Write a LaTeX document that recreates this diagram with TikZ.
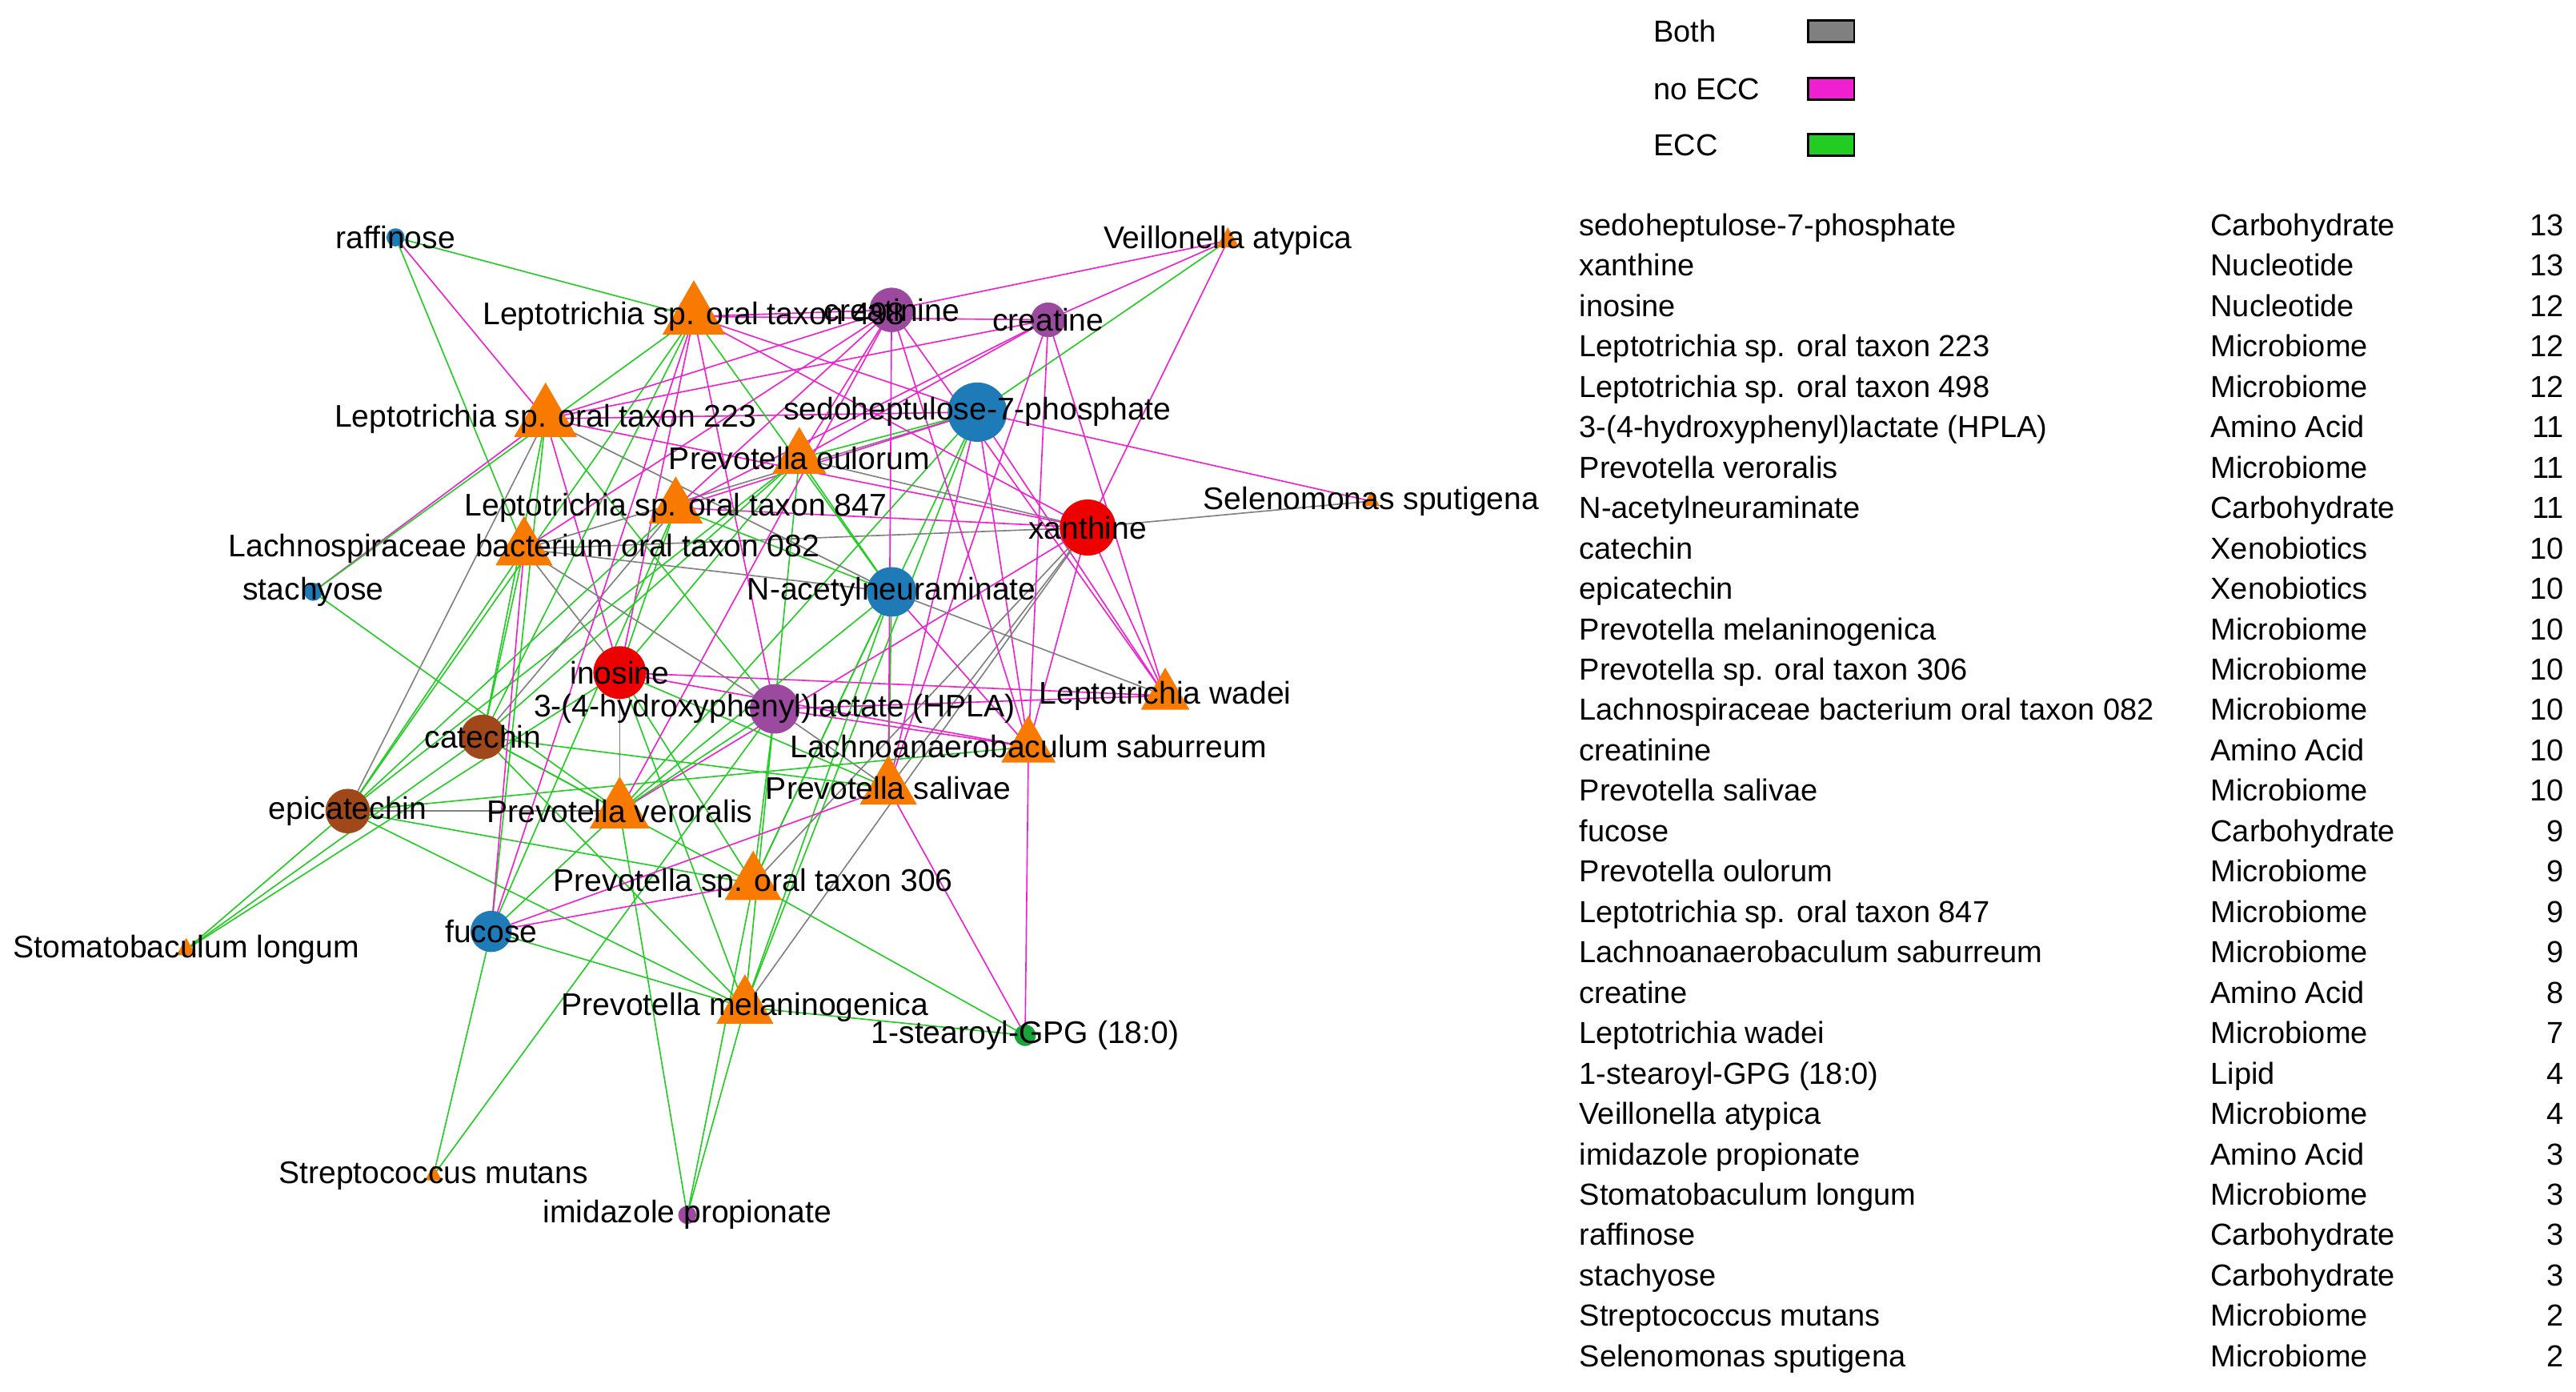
\documentclass[tikz,border=0pt]{standalone}
\usepackage{fontspec}
\setmainfont{Liberation Sans}
\usetikzlibrary{shapes.geometric}
\definecolor{eg}{HTML}{22CC22}
\definecolor{em}{HTML}{F020D0}
\definecolor{ey}{HTML}{808080}
\definecolor{cor}{HTML}{F97A00}
\definecolor{cbl}{HTML}{1F7AB8}
\definecolor{cre}{HTML}{EE0000}
\definecolor{cpu}{HTML}{9B4AA0}
\definecolor{cbr}{HTML}{A0481A}
\definecolor{cgr}{HTML}{1AA33A}
\tikzset{
 met/.style={circle,inner sep=0pt,draw=none},
 mic/.style={regular polygon,regular polygon sides=3,inner sep=0pt,fill=cor,draw=none},
 lab/.style={font=\fontsize{10.8}{12}\selectfont,inner sep=0pt},
 tab/.style={font=\fontsize{10.5}{12}\selectfont,inner sep=0pt},
 ed/.style={line width=0.45pt},
}
\begin{document}
\begin{tikzpicture}[x=0.02cm,y=-0.02cm]
\useasboundingbox (0,0) rectangle (1563,844);
% coordinates
\foreach \n/\x/\y in {raf/240/144,vei/745/146,la/421/192,crn/541/188,cre/636/194,lb/331/254,sed/593/250,pou/485/278,lc/410/308,sel/832/304,xan/660/320,lac/318/333,sta/190/359,nac/541/359,ino/376/408,hpl/470/430,lwa/707/422,cat/293/447,lan/624/453,psa/539/478,epi/211/492,pve/376/492,p36/457/536,fuc/298/565,sto/113/576,pme/452/611,ste/622/628,str/263/713,imi/417/737}
 \coordinate (\n) at (\x,\y);
% edges
\foreach \a/\b/\c in {raf/la/eg,raf/lb/em,raf/lac/eg,sta/lb/em,sta/la/eg,sta/pve/eg,
 vei/crn/em,vei/cre/em,vei/sed/eg,vei/xan/em,sto/epi/eg,sto/cat/eg,sto/ino/eg,str/fuc/eg,str/hpl/eg,sel/sed/em,sel/xan/ey,
 imi/pme/eg,imi/p36/eg,imi/pve/eg,ste/pme/eg,ste/lan/em,ste/psa/em,ste/p36/eg}
 \draw[ed,\c] (\a) -- (\b);
\foreach \b/\c in {lb/em,la/em,lac/ey,pve/eg,pme/eg,p36/eg,lan/em,psa/em,pou/eg,lc/em,lwa/em}
 \draw[ed,\c] (sed) -- (\b);
\foreach \b/\c in {lb/em,la/em,lac/ey,pve/em,pme/ey,p36/ey,lan/em,psa/ey,pou/ey,lc/em,lwa/em}
 \draw[ed,\c] (xan) -- (\b);
\foreach \b/\c in {lb/em,la/em,lac/ey,pve/ey,pme/eg,p36/eg,lan/em,psa/eg,pou/eg,lc/eg,lwa/em}
 \draw[ed,\c] (ino) -- (\b);
\foreach \b/\c in {lb/eg,la/em,lac/ey,pve/eg,pme/eg,p36/eg,lan/em,psa/ey,pou/eg,lwa/em}
 \draw[ed,\c] (hpl) -- (\b);
\foreach \b/\c in {lb/ey,la/eg,lac/ey,pve/eg,pme/eg,p36/eg,lan/em,psa/eg,pou/eg,lc/eg,lwa/ey}
 \draw[ed,\c] (nac) -- (\b);
\foreach \b/\c in {lb/eg,la/eg,lac/eg,pve/eg,pme/eg,p36/eg,psa/eg,pou/eg,lc/ey}
 \draw[ed,\c] (cat) -- (\b);
\foreach \b/\c in {lb/ey,la/eg,lac/eg,pve/ey,pme/eg,p36/eg,lan/eg,pou/eg,lc/eg}
 \draw[ed,\c] (epi) -- (\b);
\foreach \b/\c in {lb/em,la/em,lac/em,pve/em,lan/em,psa/em,pou/em,lc/em,lwa/em}
 \draw[ed,\c] (crn) -- (\b);
\foreach \b/\c in {lb/eg,la/em,pve/eg,pme/eg,p36/em,psa/em,lc/eg,lac/em}
 \draw[ed,\c] (fuc) -- (\b);
\foreach \b/\c in {lb/em,la/em,lan/em,psa/em,pou/em,lc/em,lwa/em}
 \draw[ed,\c] (cre) -- (\b);
% metabolite shapes
\foreach \n/\col/\s in {raf/cbl/11,sta/cbl/11,imi/cpu/11,ste/cgr/13,sed/cbl/36,xan/cre/34,ino/cre/32,nac/cbl/30,hpl/cpu/30,cat/cbr/27,epi/cbr/27,fuc/cbl/25,crn/cpu/27,cre/cpu/21}
 \node[met,fill=\col,minimum size=\s*0.02cm] (s\n) at (\n) {};
\foreach \n/\s in {la/44,lb/44,pve/42,pme/40,p36/40,lac/40,psa/40,pou/38,lc/38,lan/38,lwa/34,vei/16,sto/14,str/12,sel/12}
 \node[mic,minimum size=\s*0.02cm] (s\n) at (\n) {};
% labels
\foreach \n/\t in {raf/raffinose,vei/Veillonella atypica,la/Leptotrichia sp. oral taxon 498,crn/creatinine,cre/creatine,lb/Leptotrichia sp. oral taxon 223,sed/sedoheptulose-7-phosphate,pou/Prevotella oulorum,lc/Leptotrichia sp. oral taxon 847,sel/Selenomonas sputigena,xan/xanthine,lac/Lachnospiraceae bacterium oral taxon 082,sta/stachyose,nac/N-acetylneuraminate,ino/inosine,lwa/Leptotrichia wadei,cat/catechin,lan/Lachnoanaerobaculum saburreum,psa/Prevotella salivae,epi/epicatechin,pve/Prevotella veroralis,p36/Prevotella sp. oral taxon 306,fuc/fucose,sto/Stomatobaculum longum,pme/Prevotella melaninogenica,ste/1-stearoyl-GPG (18:0),str/Streptococcus mutans,imi/imidazole propionate}
 \node[lab] (l\n) at (\n) {\t};
\node[lab] (lhpl) at (470,430) {3-(4-hydroxyphenyl)lactate (HPLA)};
% legend
\foreach \t/\y/\col in {Both/19/ey,no ECC/54/em,ECC/88/eg}{
 \node[tab,anchor=west] (lg\y) at (1003,\y) {\t};
 \node[draw=black,line width=0.8pt,fill=\col,minimum width=28*0.02cm,minimum height=13*0.02cm,inner sep=0pt] (bx\y) at (1111,\y) {};
}
% table
\foreach \i/\a/\b/\c in {0/sedoheptulose-7-phosphate/Carbohydrate/13,1/xanthine/Nucleotide/13,2/inosine/Nucleotide/12,3/Leptotrichia sp. oral taxon 223/Microbiome/12,4/Leptotrichia sp. oral taxon 498/Microbiome/12,5/3-(4-hydroxyphenyl)lactate (HPLA)/Amino Acid/11,6/Prevotella veroralis/Microbiome/11,7/N-acetylneuraminate/Carbohydrate/11,8/catechin/Xenobiotics/10,9/epicatechin/Xenobiotics/10,10/Prevotella melaninogenica/Microbiome/10,11/Prevotella sp. oral taxon 306/Microbiome/10,12/Lachnospiraceae bacterium oral taxon 082/Microbiome/10,13/creatinine/Amino Acid/10,14/Prevotella salivae/Microbiome/10,15/fucose/Carbohydrate/9,16/Prevotella oulorum/Microbiome/9,17/Leptotrichia sp. oral taxon 847/Microbiome/9,18/Lachnoanaerobaculum saburreum/Microbiome/9,19/creatine/Amino Acid/8,20/Leptotrichia wadei/Microbiome/7,21/1-stearoyl-GPG (18:0)/Lipid/4,22/Veillonella atypica/Microbiome/4,23/imidazole propionate/Amino Acid/3,24/Stomatobaculum longum/Microbiome/3,25/raffinose/Carbohydrate/3,26/stachyose/Carbohydrate/3,27/Streptococcus mutans/Microbiome/2,28/Selenomonas sputigena/Microbiome/2}{
 \node[tab,anchor=base west] (ta\i) at (958,143+24.5*\i) {\a};
 \node[tab,anchor=base west] (tb\i) at (1341,143+24.5*\i) {\b};
 \node[tab,anchor=base east] (tc\i) at (1556,143+24.5*\i) {\c};
}
\end{tikzpicture}
\end{document}
